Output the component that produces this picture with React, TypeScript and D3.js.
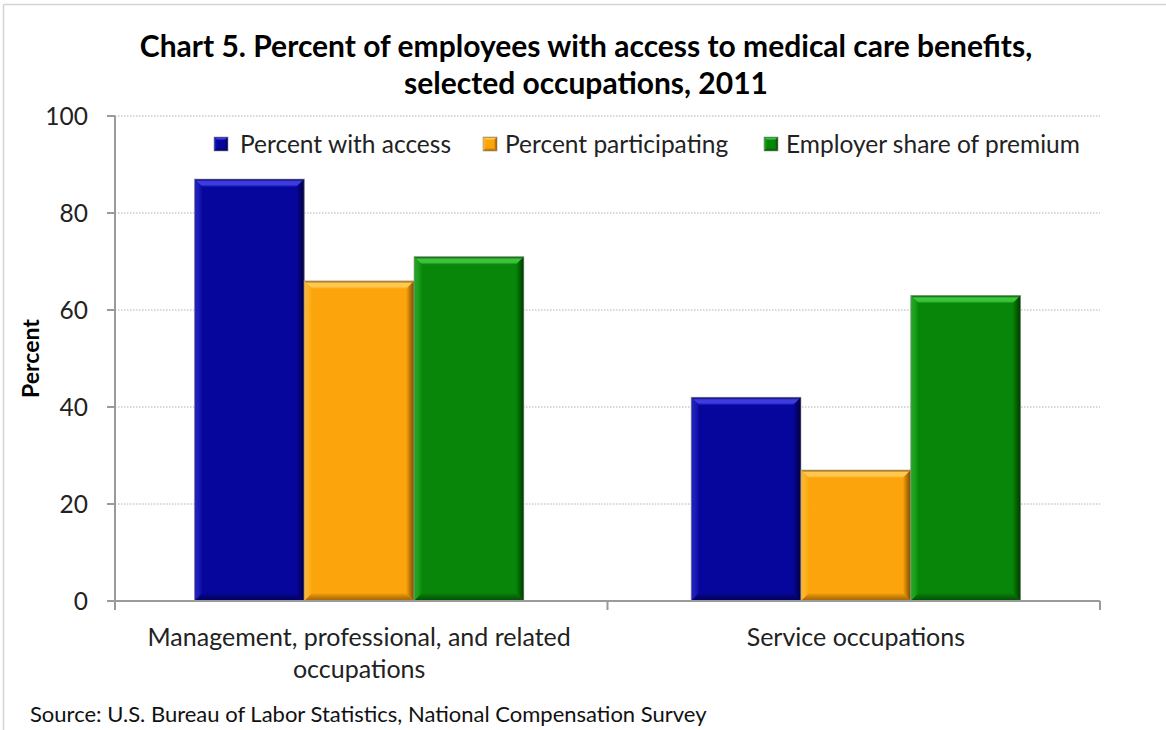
import React from "react";
import * as d3 from "d3";

const categories = ["Management, professional, and related occupations", "Service occupations"];
const categoryLines = [["Management, professional, and related", "occupations"], ["Service occupations"]];
const seriesNames = ["Percent with access", "Percent participating", "Employer share of premium"];
const accessValues = [87, 42];
const participatingValues = [66, 27];
const employerShareValues = [71, 63];
const yTicks = [0, 20, 40, 60, 80, 100];
const titleLines = ["Chart 5. Percent of employees with access to medical care benefits,", "selected occupations, 2011"];
const sourceText = "Source: U.S. Bureau of Labor Statistics, National Compensation Survey";

const seriesValues = [accessValues, participatingValues, employerShareValues];
const colors = [
  { base: "#06069c", light: "#3c3ce0", dark: "#00003c" },
  { base: "#fca40c", light: "#ffc850", dark: "#7a4a00" },
  { base: "#08860a", light: "#3cc43c", dark: "#003a00" },
];

const W = 1166;
const H = 730;
const FONT = "Lato, 'Open Sans', sans-serif";

function Bevel({ x, y, w, h, ci, b0 = 8 }: { x: number; y: number; w: number; h: number; ci: number; b0?: number }) {
  const b = Math.min(b0, h / 2, w / 2);
  const c = colors[ci];
  const pts = (arr: number[][]) => arr.map((p) => p.join(",")).join(" ");
  return (
    <g>
      <rect x={x} y={y} width={w} height={h} fill={c.base} />
      <polygon points={pts([[x, y], [x + w, y], [x + w - b, y + b], [x + b, y + b]])} fill={`url(#top${ci})`} />
      <polygon points={pts([[x, y], [x + b, y + b], [x + b, y + h - b], [x, y + h]])} fill={`url(#left${ci})`} />
      <polygon points={pts([[x + w, y], [x + w, y + h], [x + w - b, y + h - b], [x + w - b, y + b]])} fill={`url(#right${ci})`} />
      <polygon points={pts([[x, y + h], [x + w, y + h], [x + w - b, y + h - b], [x + b, y + h - b]])} fill={`url(#bottom${ci})`} />
      <rect x={x} y={y} width={w} height={h} fill="none" stroke="#999" strokeOpacity={0.6} strokeWidth={1} />
    </g>
  );
}

export default function App() {
  const left = 115;
  const right = 1100;
  const y0 = 601;
  const y100 = 116;

  const x0 = d3.scaleBand<string>().domain(categories).range([left, right]).paddingInner(0.337).paddingOuter(0.16);
  const x1 = d3.scaleBand<string>().domain(seriesNames).range([0, x0.bandwidth()]).padding(0);
  const y = d3.scaleLinear().domain([0, 100]).range([y0, y100]);

  const legendItems = [
    { sx: 214, tx: 240 },
    { sx: 483, tx: 505 },
    { sx: 764, tx: 786 },
  ];

  return (
    <svg width={W} height={H} style={{ position: "absolute", left: 0, top: 0, background: "#fff" }}>
      <defs>
        {colors.map((c, i) => (
          <React.Fragment key={i}>
            <linearGradient id={`top${i}`} x1="0" y1="0" x2="0" y2="1">
              <stop offset="0" stopColor={c.dark} stopOpacity={0.6} />
              <stop offset="0.3" stopColor={c.light} />
              <stop offset="0.7" stopColor={c.light} />
              <stop offset="1" stopColor={c.base} />
            </linearGradient>
            <linearGradient id={`left${i}`} x1="0" y1="0" x2="1" y2="0">
              <stop offset="0" stopColor={c.light} stopOpacity={0.5} />
              <stop offset="1" stopColor={c.base} />
            </linearGradient>
            <linearGradient id={`right${i}`} x1="0" y1="0" x2="1" y2="0">
              <stop offset="0" stopColor={c.base} />
              <stop offset="1" stopColor={c.dark} />
            </linearGradient>
            <linearGradient id={`bottom${i}`} x1="0" y1="0" x2="0" y2="1">
              <stop offset="0" stopColor={c.base} />
              <stop offset="1" stopColor={c.dark} stopOpacity={0.7} />
            </linearGradient>
          </React.Fragment>
        ))}
      </defs>

      {/* outer border */}
      <line x1={3.5} y1={4.5} x2={W} y2={4.5} stroke="#d4d4d4" strokeWidth={1.5} />
      <line x1={3.5} y1={4.5} x2={3.5} y2={H} stroke="#d4d4d4" strokeWidth={1.5} />

      {/* title */}
      {titleLines.map((t, i) => (
        <text key={i} x={586} y={57 + i * 37} textAnchor="middle" fontFamily={FONT} fontWeight="bold" fontSize={30} fill="#000">
          {t}
        </text>
      ))}

      {/* gridlines */}
      {yTicks.filter((t) => t > 0).map((t) => (
        <line key={t} x1={left} x2={right} y1={y(t)} y2={y(t)} stroke="#b0b0b0" strokeWidth={1} strokeDasharray="1.5,1.5" />
      ))}

      {/* bars */}
      {categories.map((cat, ci) =>
        seriesNames.map((s, si) => {
          const v = seriesValues[si][ci];
          const bx = (x0(cat) as number) + (x1(s) as number);
          return <Bevel key={cat + s} x={bx} y={y(v)} w={x1.bandwidth()} h={y(0) - y(v)} ci={si} />;
        })
      )}

      {/* y axis */}
      <line x1={left} x2={left} y1={y100} y2={y0 + 9} stroke="#9a9a9a" strokeWidth={2} />
      {yTicks.map((t) => (
        <g key={t}>
          <line x1={left - 8} x2={left} y1={y(t)} y2={y(t)} stroke="#9a9a9a" strokeWidth={2} />
          <text x={88} y={y(t) + 8.5} textAnchor="end" fontFamily={FONT} fontSize={24.5} fill="#222">
            {t}
          </text>
        </g>
      ))}
      <text transform={`translate(39,${(y0 + y100) / 2}) rotate(-90)`} textAnchor="middle" fontFamily={FONT} fontWeight="bold" fontSize={23} fill="#000">
        Percent
      </text>

      {/* x axis */}
      <line x1={left - 8} x2={right} y1={y0} y2={y0} stroke="#9a9a9a" strokeWidth={2} />
      {[...categories.map((c) => x0(c) as number), right].slice(1).map((xx, i) => {
        const tx = i < categories.length - 1 ? (xx as number) - (x0.step() * x0.paddingInner()) / 2 : right;
        return <line key={i} x1={tx} x2={tx} y1={y0} y2={y0 + 9} stroke="#9a9a9a" strokeWidth={2} />;
      })}
      {categories.map((cat, ci) => {
        const cx = (x0(cat) as number) + x0.bandwidth() / 2;
        return (
          <text key={cat} textAnchor="middle" fontFamily={FONT} fontSize={25} fill="#222">
            {categoryLines[ci].map((ln, li) => (
              <tspan key={li} x={cx} y={646 + li * 32}>
                {ln}
              </tspan>
            ))}
          </text>
        );
      })}

      {/* legend */}
      {seriesNames.map((s, i) => (
        <g key={s}>
          <Bevel x={legendItems[i].sx} y={137} w={14} h={14} ci={i} b0={3} />
          <text x={legendItems[i].tx} y={153} fontFamily={FONT} fontSize={24.5} fill="#222">
            {s}
          </text>
        </g>
      ))}

      {/* source */}
      <text x={30} y={722} fontFamily={FONT} fontSize={22} fill="#111">
        {sourceText}
      </text>
    </svg>
  );
}
